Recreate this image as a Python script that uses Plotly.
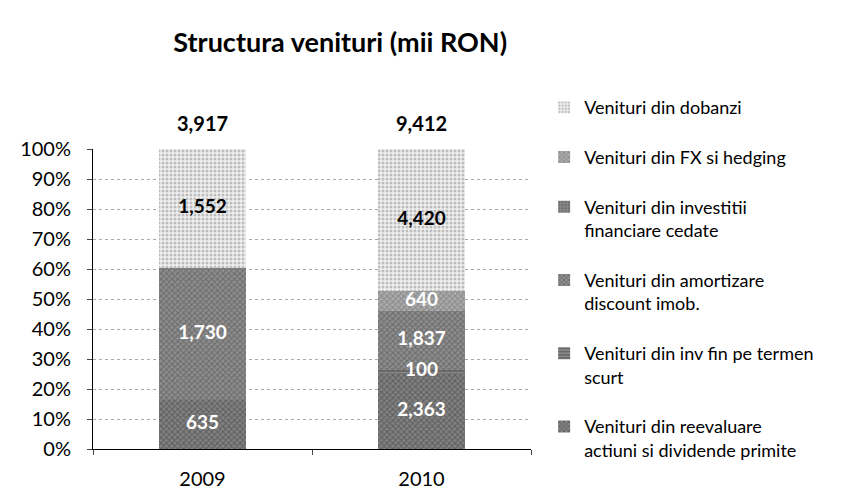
import numpy as np
import plotly.graph_objects as go

years = ["2009", "2010"]
totals = [3917, 9412]

# stacking order, bottom -> top
series_names = [
    "Venituri din reevaluare<br>actiuni si dividende primite",
    "Venituri din inv fin pe termen<br>scurt",
    "Venituri din amortizare<br>discount imob.",
    "Venituri din investitii<br>financiare cedate",
    "Venituri din FX si hedging",
    "Venituri din dobanzi",
]
reevaluare = [635, 2363]
inv_termen_scurt = [0, 100]
amortizare = [1730, 1837]
investitii_cedate = [0, 0]
fx_hedging = [0, 640]
dobanzi = [1552, 4420]

series_values = [reevaluare, inv_termen_scurt, amortizare,
                 investitii_cedate, fx_hedging, dobanzi]

fg = ["#383838", "#404040", "#474747", "#454545", "#666666", "#8c8c8c"]
bg = ["#828282", "#888888", "#8e8e8e", "#8c8c8c", "#ababab", "#efefef"]
shapes = ["x", "-", "x", "+", "x", "."]
text_col = ["white", "white", "white", "white", "white", "black"]

FONT = "Lato, sans-serif"

fig = go.Figure()
for i, (name, vals) in enumerate(zip(series_names, series_values)):
    fig.add_trace(go.Bar(
        x=years,
        y=vals,
        # trailing blank line gives the roomy legend spacing of the original
        name=name + "<br> ",
        legendrank=100 - i,
        marker=dict(
            color=bg[i],
            line=dict(width=0),
            pattern=dict(shape=shapes[i], fgcolor=fg[i], bgcolor=bg[i],
                         size=4, solidity=0.45),
        ),
        hoverinfo="none",
    ))

# segment labels drawn on top of all bars (so the thin "100" stays readable)
vals = np.array(series_values, dtype=float)
pct = vals / vals.sum(axis=0) * 100
mid = np.cumsum(pct, axis=0) - pct / 2
lab_x, lab_y, lab_t, lab_c = [], [], [], []
for i in range(len(series_values)):
    for j, yr in enumerate(years):
        if vals[i, j] > 0:
            lab_x.append(yr)
            lab_y.append(mid[i, j])
            lab_t.append(f"<b>{int(vals[i, j]):,}</b>")
            lab_c.append(text_col[i])
fig.add_trace(go.Scatter(
    x=lab_x, y=lab_y, mode="text", text=lab_t,
    textfont=dict(family=FONT, size=19, color=lab_c),
    showlegend=False, hoverinfo="none", cliponaxis=False,
))

# totals above the bars
for j, (yr, tot) in enumerate(zip(years, totals)):
    fig.add_annotation(x=j, y=100, yanchor="bottom", yshift=12,
                       text=f"<b>{tot:,}</b>", showarrow=False,
                       font=dict(family=FONT, size=20, color="black"))

fig.update_layout(
    width=854, height=494,
    barmode="stack",
    barnorm="percent",
    bargap=0.6,
    plot_bgcolor="white",
    paper_bgcolor="white",
    margin=dict(l=85, r=331, t=141, b=48),
    font=dict(family=FONT, size=20, color="black"),
    title=dict(text="<b>Structura venituri (mii RON)</b>", x=0.389, xanchor="center",
               y=0.93, yanchor="middle", font=dict(family=FONT, size=27)),
    showlegend=True,
    legend=dict(x=1.03, xanchor="left", y=1.2, yanchor="top",
                traceorder="normal", maxheight=490, itemwidth=30, valign="top",
                font=dict(family=FONT, size=18)),
)
fig.update_xaxes(type="category", range=[-0.5, 1.5], showline=True,
                 linecolor="black", linewidth=1, ticks="outside", ticklen=5,
                 tickson="boundaries", ticklabelstandoff=12,
                 tickfont=dict(size=20))
fig.update_yaxes(range=[0, 100], dtick=10, ticksuffix="%",
                 showline=True, linecolor="black", linewidth=1,
                 ticks="outside", ticklen=5, ticklabelstandoff=12,
                 showgrid=True, gridcolor="#aaaaaa", griddash="dot",
                 zeroline=False, tickfont=dict(size=20))

fig.write_html("out.html")
